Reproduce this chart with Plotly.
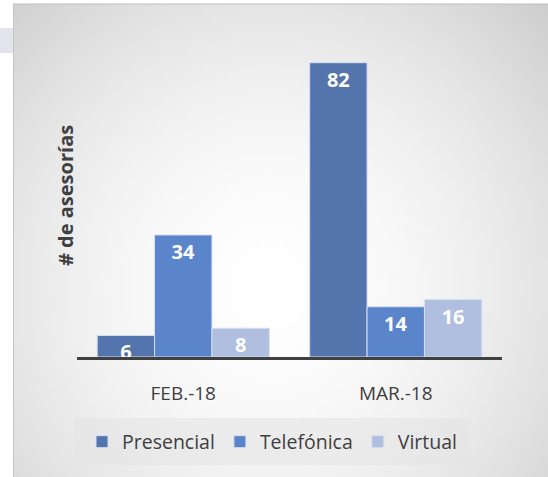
import base64, struct, zlib
import plotly.graph_objects as go

categories = ["FEB.-18", "MAR.-18"]
presencial = [6, 82]
telefonica = [34, 14]
virtual = [8, 16]
series_names = ["Presencial", "Telefónica", "Virtual"]
colors = ["#5374ac", "#5b85cb", "#b0bfe0"]

W, H = 548, 477
ML, MR, MT, MB = 77, 46, 34, 120
PW, PH = W - ML - MR, H - MT - MB


def make_png(w, h):
    rows = b""
    cx, cy = 0.48, 0.60
    for j in range(h):
        row = b"\x00"
        for i in range(w):
            dx = (i / (w - 1) - cx) / 0.80
            dy = (j / (h - 1) - cy) / 0.95
            d = min(1.0, (dx * dx + dy * dy) ** 0.5)
            v = int(255 - 58 * d ** 1.8)
            row += bytes([v, v, v])
        rows += row

    def chunk(t, data):
        c = struct.pack(">I", len(data)) + t + data
        return c + struct.pack(">I", zlib.crc32(t + data) & 0xffffffff)

    png = b"\x89PNG\r\n\x1a\n"
    png += chunk(b"IHDR", struct.pack(">IIBBBBB", w, h, 8, 2, 0, 0, 0))
    png += chunk(b"IDAT", zlib.compress(rows))
    png += chunk(b"IEND", b"")
    return "data:image/png;base64," + base64.b64encode(png).decode()


def px(x):
    return (x - ML) / PW


def py(y):
    return (H - MB - y) / PH


fig = go.Figure()
for name, vals, col in zip(series_names, [presencial, telefonica, virtual], colors):
    fig.add_trace(go.Bar(
        x=categories, y=vals, name=name,
        marker=dict(color=col, line=dict(color="#d6def0", width=1)),
        text=[str(v) for v in vals], textposition="inside", insidetextanchor="end",
        textfont=dict(color="white", size=20, family="Open Sans", weight="bold"),
        textangle=0,
    ))

bg = make_png(96, 96)
fig.add_layout_image(dict(
    source=bg, xref="paper", yref="paper",
    x=px(13), y=py(4), sizex=px(548) - px(13), sizey=py(4) - py(477),
    xanchor="left", yanchor="top", sizing="stretch", layer="below",
))

fig.add_shape(type="line", xref="paper", yref="paper",
              x0=px(13), x1=px(548), y0=py(4), y1=py(4),
              line=dict(color="#bdbdbd", width=1))
fig.add_shape(type="line", xref="paper", yref="paper",
              x0=px(13.5), x1=px(13.5), y0=py(4), y1=py(477),
              line=dict(color="#c4c4c4", width=1))
fig.add_shape(type="rect", xref="paper", yref="paper",
              x0=px(0), x1=px(13), y0=py(28), y1=py(53),
              line=dict(width=0), fillcolor="#e3e3ee", layer="below")
# legend backing box
fig.add_shape(type="rect", xref="paper", yref="paper",
              x0=px(74), x1=px(469), y0=py(418), y1=py(465),
              line=dict(width=0), fillcolor="rgba(228,228,228,0.55)", layer="below")

fig.add_annotation(text="<b># de asesorías</b>", xref="paper", yref="paper",
                   x=px(65), y=py(196), textangle=-90, showarrow=False,
                   font=dict(size=20, color="#404040", family="Open Sans"),
                   xanchor="center", yanchor="middle")

fig.update_layout(
    width=W, height=H,
    margin=dict(l=ML, r=MR, t=MT, b=MB, autoexpand=False),
    paper_bgcolor="white", plot_bgcolor="rgba(0,0,0,0)",
    barmode="group", bargap=0.19, bargroupgap=0,
    uniformtext=dict(minsize=20, mode="show"),
    font=dict(family="Open Sans", color="#404040"),
    xaxis=dict(showline=True, linecolor="#404040", linewidth=3,
               ticks="outside", ticklen=17, tickcolor="rgba(0,0,0,0)",
               tickfont=dict(size=19, color="#404040"), showgrid=False),
    yaxis=dict(range=[0, 90], showticklabels=False, showgrid=False,
               zeroline=False, showline=False),
    legend=dict(orientation="h", xref="paper", yref="paper",
                x=px(272), xanchor="center", y=py(442), yanchor="middle",
                bgcolor="rgba(0,0,0,0)",
                font=dict(size=19.5, color="#404040"),
                itemwidth=30, tracegroupgap=0),
    showlegend=True,
)

fig.write_html("out.html", config={"displayModeBar": False},
               post_script="document.body.style.margin='0';document.body.style.padding='0';")
